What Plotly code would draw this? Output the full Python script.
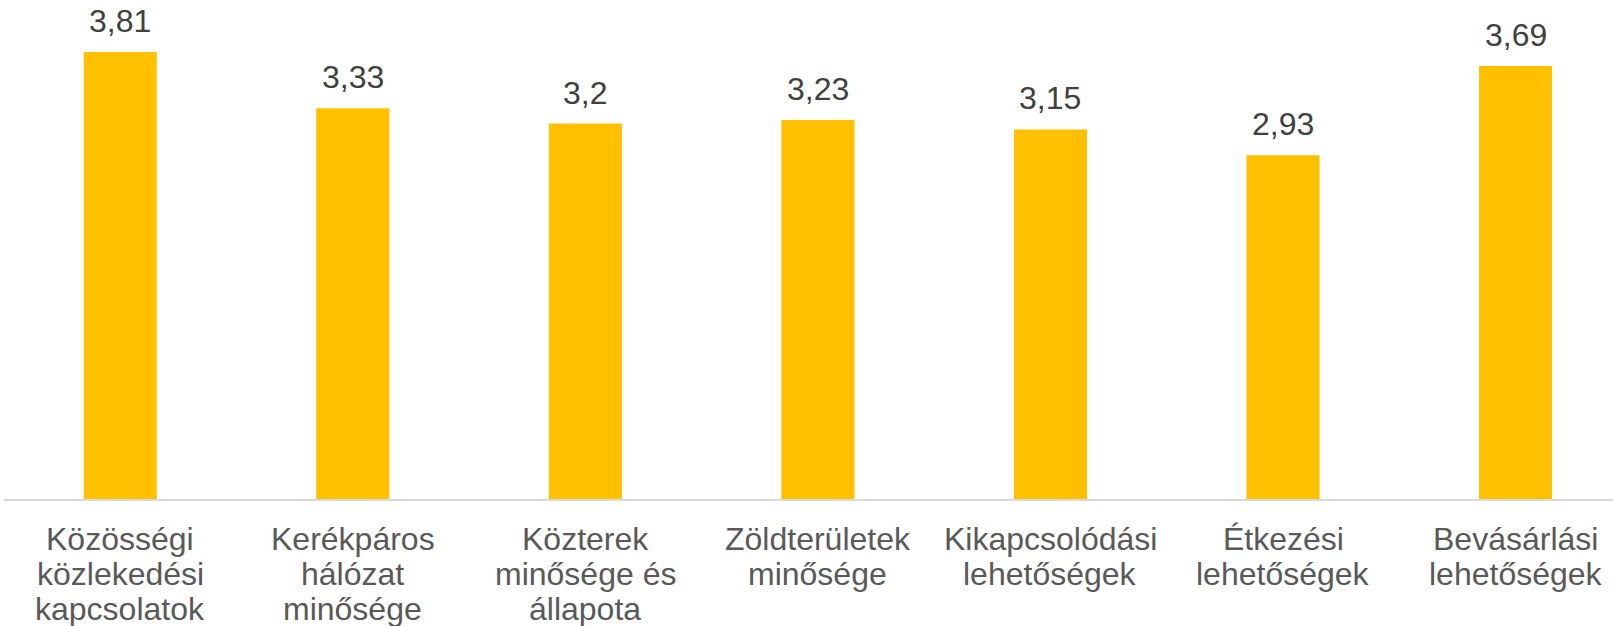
import plotly.graph_objects as go

categories = [
    "Közösségi<br>közlekedési<br>kapcsolatok",
    "Kerékpáros<br>hálózat<br>minősége",
    "Közterek<br>minősége és<br>állapota",
    "Zöldterületek<br>minősége",
    "Kikapcsolódási<br>lehetőségek",
    "Étkezési<br>lehetőségek",
    "Bevásárlási<br>lehetőségek",
]
values = [3.81, 3.33, 3.2, 3.23, 3.15, 2.93, 3.69]

FONT = "Liberation Sans, Arial"
xs = list(range(len(categories)))

fig = go.Figure(
    go.Bar(
        x=xs,
        y=values,
        marker=dict(color="#FFC000", line=dict(width=0)),
        width=0.314,
        hoverinfo="x+y",
    )
)

annotations = []
# value labels above bars
for x, v in zip(xs, values):
    annotations.append(dict(
        x=x, y=v, xref="x", yref="y",
        text=f"{v:g}".replace(".", ","),
        showarrow=False, xanchor="center", yanchor="bottom", yshift=11,
        font=dict(family=FONT, size=32, color="#404040"),
    ))
# category labels below the axis, one line at a time for tight line spacing
for x, cat in zip(xs, categories):
    for j, line in enumerate(cat.split("<br>")):
        annotations.append(dict(
            x=x, y=0, xref="x", yref="paper",
            text=line,
            showarrow=False, xanchor="center", yanchor="top",
            yshift=-20 - 35 * j,
            font=dict(family=FONT, size=32, color="#595959"),
        ))

fig.update_layout(
    width=1613,
    height=626,
    margin=dict(l=4, r=0, t=0, b=127),
    paper_bgcolor="white",
    plot_bgcolor="white",
    showlegend=False,
    font=dict(family=FONT, size=32, color="#595959"),
    annotations=annotations,
    xaxis=dict(
        range=[-0.5, 6.419],
        tickmode="array",
        tickvals=xs,
        ticktext=categories,
        showticklabels=False,
        showgrid=False,
        zeroline=False,
        showline=True,
        linecolor="#D9D9D9",
        linewidth=1.5,
        ticks="",
        fixedrange=True,
    ),
    yaxis=dict(
        range=[0, 4.253],
        visible=False,
        showgrid=False,
        zeroline=False,
        fixedrange=True,
    ),
)

fig.write_html(
    "out.html",
    config={"displayModeBar": False},
    post_script="document.body.style.margin='0';document.body.style.overflow='hidden';",
)
